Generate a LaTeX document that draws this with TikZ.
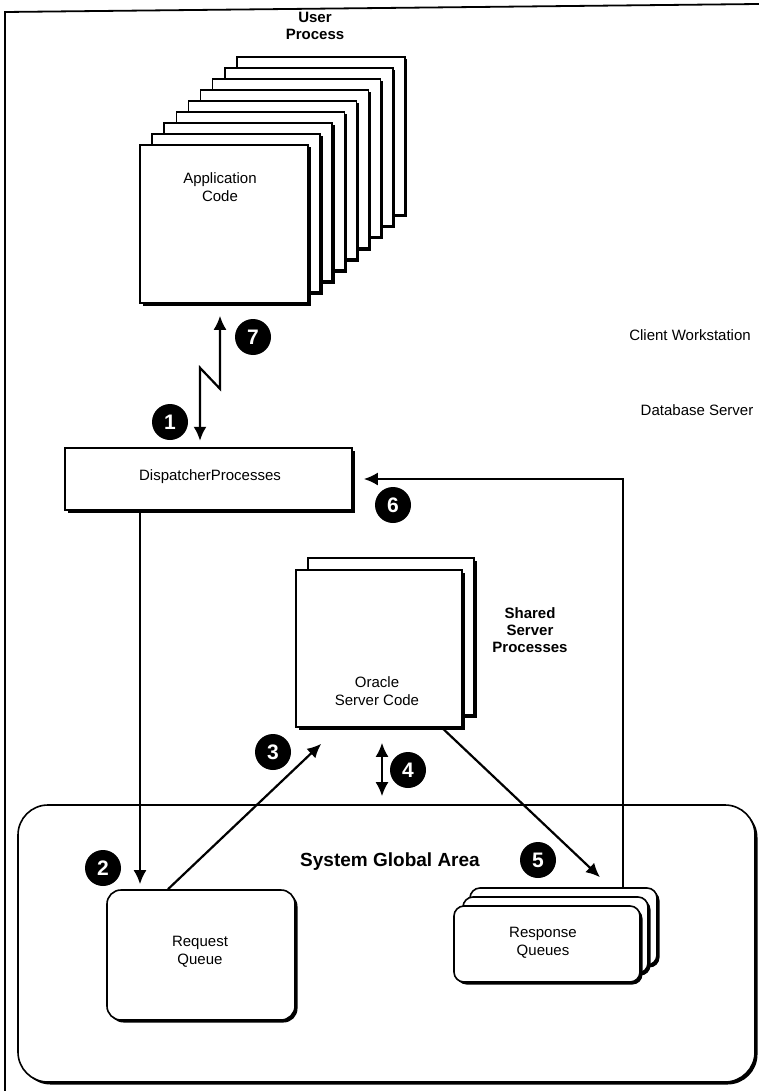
\documentclass[tikz,border=0pt]{standalone}
\usepackage{fontspec}
\setmainfont{Liberation Sans}
\usetikzlibrary{arrows.meta,shadows,calc}
\begin{document}
\begin{tikzpicture}[x=1pt,y=-1pt,
  box/.style={draw=black, line width=1.6pt, fill=white, inner sep=0pt,
    drop shadow={shadow xshift=2.5pt, shadow yshift=-2.5pt, fill=black, opacity=1}},
  lbl/.style={font=\fontsize{15}{18}\selectfont, align=center, inner sep=0pt},
  blbl/.style={font=\bfseries\fontsize{15}{17}\selectfont, align=center, inner sep=0pt},
  num/.style={circle, fill=black, minimum size=36pt, inner sep=0pt, text=white,
    font=\bfseries\fontsize{21}{21}\selectfont},
  arr/.style={line width=2.2pt, -{Latex[length=14pt,width=13pt]}},
  dblarr/.style={line width=2.2pt, {Latex[length=14pt,width=13pt]}-{Latex[length=14pt,width=13pt]}},
]
\useasboundingbox (0,0) rectangle (759,1091);
% outer frame
\draw[line width=1.8pt] (5,1091) -- (5,12) -- (759,4);

% user process pages
\foreach \i in {8,7,...,1}
  \node[box, minimum width=168pt, minimum height=158pt] (pg\i) at ({224+12.1*\i},{224-11*\i}) {};
\node[box, minimum width=168pt, minimum height=158pt] (app) at (224,224) {};
\node[lbl] (appt) at (220,187) {Application\\Code};
\node[blbl] (user) at (315,26) {User\\Process};

% side labels
\node[lbl] (client) at (690,335) {Client Workstation};
\node[lbl] (dbs) at (697,410) {Database Server};

% dispatcher
\node[box, minimum width=287pt, minimum height=62pt] (disp) at (208.5,479) {};
\node[lbl] (dispt) at (210,477) {DispatcherProcesses};

% oracle server code
\node[box, minimum width=166pt, minimum height=157pt] (oracleb) at (391,636.5) {};
\node[box, minimum width=166pt, minimum height=157pt] (oracle) at (379,648.5) {};
\node[lbl] (oraclet) at (377,691) {Oracle\\Server Code};
\node[blbl] (shared) at (530,630) {Shared\\Server\\Processes};

% SGA
\node[box, rounded corners=30pt, minimum width=737pt, minimum height=277pt] (sga) at (386.5,943.5) {};
\node[font=\bfseries\fontsize{19}{19}\selectfont, inner sep=0pt] (sgat) at (390,862) {System Global Area};

% request queue
\node[box, rounded corners=14pt, minimum width=188pt, minimum height=130pt] (reqq) at (201,955) {};
\node[lbl] (reqqt) at (200,952) {Request\\Queue};

% response queues
\node[box, rounded corners=10pt, minimum width=187pt, minimum height=77pt] (rq3) at (563.5,926.5) {};
\node[box, rounded corners=10pt, minimum width=185pt, minimum height=76pt] (rq2) at (555.5,935) {};
\node[box, rounded corners=10pt, minimum width=186pt, minimum height=76pt] (respq) at (547,944) {};
\node[lbl] (respqt) at (543,943) {Response\\Queues};

% connectors
\draw[dblarr] ([xshift=-4pt,yshift=-12pt]app.south) -- ++(0,73) -- ++(-20,-21) -- ++(0,73) coordinate (z1);
\draw[arr, shorten >=5pt] ([xshift=-68.5pt]disp.south) -- ([xshift=-68.5pt]disp.south |- reqq.north);
\draw[arr] ([xshift=-33pt]reqq.north) -- ([xshift=26pt,yshift=-16pt]oracle.south west);
\draw[dblarr, shorten >=8pt] ([xshift=3pt,yshift=-15pt]oracle.south) -- ([xshift=3pt]oracle.south |- sga.north);
\draw[arr] ([xshift=63pt]oracle.south) -- ([xshift=53pt,yshift=28pt]respq.north);
\draw[arr, shorten >=11pt] ([xshift=59.5pt]rq3.north) |- (disp.east);

% numbers
\node[num] (c1) at (170,422) {1};
\node[num] (c2) at (103,868) {2};
\node[num] (c3) at (273,752) {3};
\node[num] (c4) at (408,770) {4};
\node[num] (c5) at (538,860) {5};
\node[num] (c6) at (393,505) {6};
\node[num] (c7) at (253,337) {7};
\end{tikzpicture}
\end{document}
